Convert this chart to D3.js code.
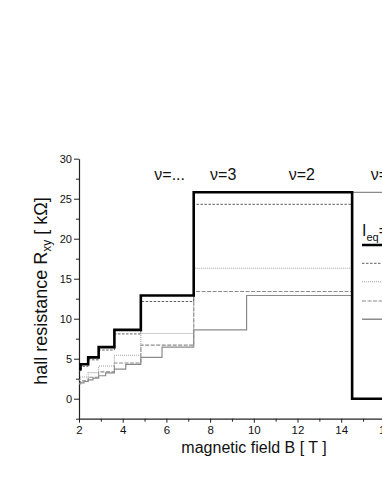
<!DOCTYPE html>
<html><head><meta charset="utf-8">
<script src="https://cdn.jsdelivr.net/npm/d3@7"></script>
<style>body{margin:0;background:#fff}svg{display:block}text{font-family:"Liberation Sans",Arial,sans-serif}</style>
</head><body><svg id="c" width="382" height="494"></svg>
<script>
// step series: [B start, R value]; each value holds until the next B
const blackSteps = [[2.0,3.69],[2.07,4.3],[2.42,5.16],[2.9,6.45],[3.62,8.6],[4.83,12.9],[7.25,25.8],[14.5,0],[18,0]];
const dashSteps  = [[2.0,3.48],[2.07,4.05],[2.42,4.86],[2.9,6.08],[3.62,8.1],[4.83,12.15],[7.25,24.3],[14.5,24.3]];
const dotSteps   = [[2.0,2.33],[2.07,2.72],[2.42,3.26],[2.9,4.08],[3.62,5.44],[4.83,8.15],[7.25,16.3],[14.5,16.3]];
const dash2Steps = [[2.0,1.91],[2.07,2.23],[2.42,2.68],[2.9,3.35],[3.62,4.47],[4.83,6.7],[7.25,13.4],[14.5,13.4]];
const graySteps  = [[2.0,1.84],[2.07,1.98],[2.23,2.15],[2.42,2.35],[2.64,2.58],[2.9,2.87],[3.22,3.23],[3.62,3.69],[4.14,4.3],[4.83,5.16],[5.8,6.45],[7.25,8.6],[9.67,12.9],[14.5,25.8],[18,25.8]];
const xTicks = [2,4,6,8,10,12,14,16,18];
const yTicks = [0,5,10,15,20,25,30];
const nuLabels = [{b:6.15,t:"ν=..."},{b:8.6,t:"ν=3"},{b:12.2,t:"ν=2"},{b:15.95,t:"ν=1"}];

const svg = d3.select("#c");
const x = d3.scaleLinear().domain([2,18]).range([79,428.6]);
const y = d3.scaleLinear().domain([-2.5,30]).range([418.7,158.7]);

// axes
const yAxis = d3.axisLeft(y).tickValues(yTicks).tickSize(5).tickPadding(2).tickSizeOuter(0);
const gy = svg.append("g").attr("transform","translate(79,0)").call(yAxis);
gy.selectAll(".tick line").attr("stroke","#222").attr("stroke-width",1);
gy.select(".domain").attr("stroke","#222").attr("stroke-width",1.2);
gy.selectAll("text").attr("font-size",11).attr("fill","#111");
const yMinor = d3.axisLeft(y).tickValues([-2.5,2.5,7.5,12.5,17.5,22.5,27.5]).tickSize(3).tickFormat("").tickSizeOuter(0);
const gym = svg.append("g").attr("transform","translate(79,0)").call(yMinor);
gym.select(".domain").remove();
gym.selectAll(".tick line").attr("stroke","#222");

const xAxis = d3.axisBottom(x).tickValues(xTicks).tickSize(4).tickPadding(3).tickSizeOuter(0);
const gx = svg.append("g").attr("transform","translate(0,418.7)").call(xAxis);
gx.select(".domain").attr("stroke","#222").attr("stroke-width",1.2);
gx.selectAll(".tick line").attr("stroke","#222");
gx.selectAll("text").attr("font-size",11.5).attr("fill","#111");
const xMinor = d3.axisBottom(x).tickValues([3,5,7,9,11,13,15,17]).tickSize(3).tickFormat("").tickSizeOuter(0);
const gxm = svg.append("g").attr("transform","translate(0,418.7)").call(xMinor);
gxm.select(".domain").remove();
gxm.selectAll(".tick line").attr("stroke","#222");

// lines
const line = d3.line().x(d=>x(d[0])).y(d=>y(d[1])).curve(d3.curveStepAfter);
function draw(data, color, w, dash){
  svg.append("path").datum(data).attr("d",line).attr("fill","none")
    .attr("stroke",color).attr("stroke-width",w).attr("stroke-dasharray",dash||null);
}
draw(graySteps,"#8a8a8a",1.2);
draw(dash2Steps,"#8c8c8c",1.1,"4,1.5");
draw(dotSteps,"#a0a0a0",1.1,"1,1");
draw(dashSteps,"#606060",1,"2.5,1.5");
draw(blackSteps,"#000",2.6);

// nu labels
svg.selectAll(".nu").data(nuLabels).enter().append("text")
  .attr("x",d=>x(d.b)).attr("y",180).attr("text-anchor","middle")
  .attr("font-size",16).attr("fill","#111").text(d=>d.t);

// legend
const lg = svg.append("g");
const lt = lg.append("text").attr("x",362).attr("y",236).attr("font-size",16).attr("fill","#111");
lt.append("tspan").text("I");
lt.append("tspan").attr("font-size",11).attr("dy",5).text("eq");
lt.append("tspan").attr("dy",-5).text("=");
const legItems = [
  {y:245,c:"#000",w:2.6,d:null},
  {y:263.3,c:"#606060",w:1,d:"2.5,1.5"},
  {y:281.7,c:"#a0a0a0",w:1.1,d:"1,1"},
  {y:301,c:"#8c8c8c",w:1.1,d:"4,1.5"},
  {y:319.3,c:"#8a8a8a",w:1.4,d:null}];
lg.selectAll("line").data(legItems).enter().append("line")
  .attr("x1",362).attr("x2",400).attr("y1",d=>d.y).attr("y2",d=>d.y)
  .attr("stroke",d=>d.c).attr("stroke-width",d=>d.w).attr("stroke-dasharray",d=>d.d);

// axis titles
svg.append("text").attr("x",254).attr("y",453).attr("text-anchor","middle")
  .attr("font-size",16).attr("fill","#111").text("magnetic field B [ T ]");
const yt = svg.append("text").attr("transform","translate(47,291) rotate(-90)")
  .attr("text-anchor","middle").attr("font-size",18).attr("fill","#111");
yt.append("tspan").text("hall resistance R");
yt.append("tspan").attr("font-size",12).attr("dy",4).text("xy");
yt.append("tspan").attr("dy",-4).text(" [ kΩ]");
</script></body></html>
